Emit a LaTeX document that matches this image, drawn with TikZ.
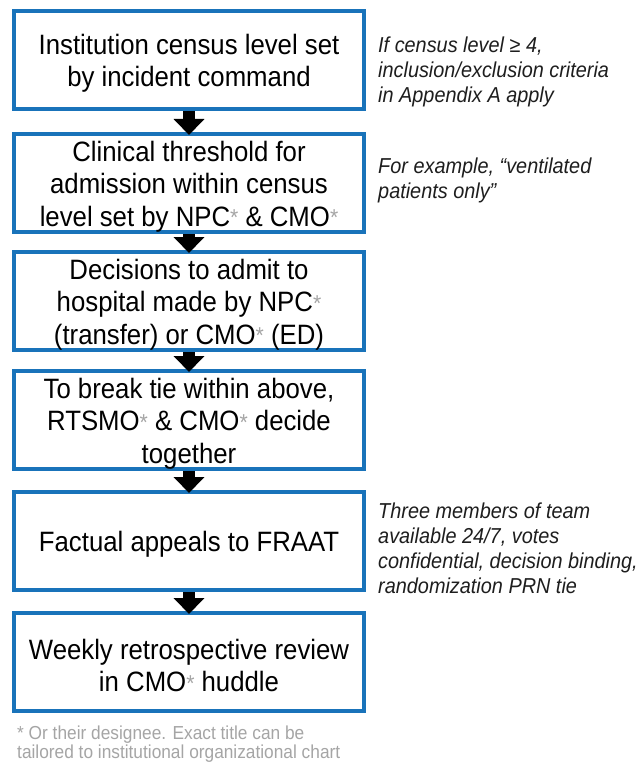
\documentclass[tikz,border=0pt]{standalone}
\usepackage{fontspec}
\setmainfont{Liberation Sans}
\newfontfamily\narrowsans{Liberation Sans}[FakeStretch=0.92]
\usetikzlibrary{arrows.meta}
\definecolor{boxblue}{RGB}{25,115,186}
\definecolor{stargray}{RGB}{165,165,165}
\definecolor{notegray}{RGB}{30,30,30}
\newcommand{\gstar}{\textcolor{stargray}{\raisebox{0.5pt}{\fontsize{23}{23}\selectfont *}}}
\begin{document}
\begin{tikzpicture}[x=1pt,y=-1pt,
  stepbox/.style={draw=boxblue, fill=white, line width=4pt, minimum width=350pt, minimum height=98pt,
    inner sep=0pt},
  boxtext/.style={align=center, inner sep=0pt, yshift=-3.5pt, font=\narrowsans\fontsize{28}{32.5}\selectfont},
  note/.style={anchor=west, align=left, inner sep=0pt, text=notegray, font=\narrowsans\fontsize{21.6}{25}\selectfont\itshape},
  foot/.style={anchor=west, align=left, inner sep=0pt, text=stargray, font=\narrowsans\fontsize{18.8}{18.5}\selectfont},
  flow/.style={line width=12pt, -{Triangle[width=30pt,length=16pt]}, shorten >=-3pt}]
\useasboundingbox (0,0) rectangle (643,762);
\fill[white] (0,0) rectangle (643,762);

\node[stepbox, label={[boxtext]center:{Institution census level set\\by incident command}}] (b1) at (189,60) {};
\node[stepbox, label={[boxtext]center:{Clinical threshold for\\admission within census\\level set by NPC\gstar{} \& CMO\gstar}}] (b2) at (189,183) {};
\node[stepbox, label={[boxtext]center:{Decisions to admit to\\hospital made by NPC\gstar\\(transfer) or CMO\gstar{} (ED)}}] (b3) at (189,301) {};
\node[stepbox, label={[boxtext]center:{To break tie within above,\\RTSMO\gstar{} \& CMO\gstar{} decide\\together}}] (b4) at (189,420) {};
\node[stepbox, label={[boxtext]center:{Factual appeals to FRAAT}}] (b5) at (189,541) {};
\node[stepbox, label={[boxtext]center:{Weekly retrospective review\\in CMO\gstar{} huddle}}] (b6) at (189,662) {};

\draw[flow] (b1.south) -- (b2.north);
\draw[flow] (b2.south) -- (b3.north);
\draw[flow] (b3.south) -- (b4.north);
\draw[flow] (b4.south) -- (b5.north);
\draw[flow] (b5.south) -- (b6.north);

\node[note] (n1) at (378,72) {If census level ≥ 4,\\inclusion/exclusion criteria\\in Appendix A apply};
\node[note] (n2) at (378,180) {For example, “ventilated\\patients only”};
\node[note] (n5) at (378,548) {Three members of team\\available 24/7, votes\\confidential, decision binding,\\randomization PRN tie};

\node[foot] (ft) at (17,744) {* Or their designee. Exact title can be\\tailored to institutional organizational chart};
\end{tikzpicture}
\end{document}
